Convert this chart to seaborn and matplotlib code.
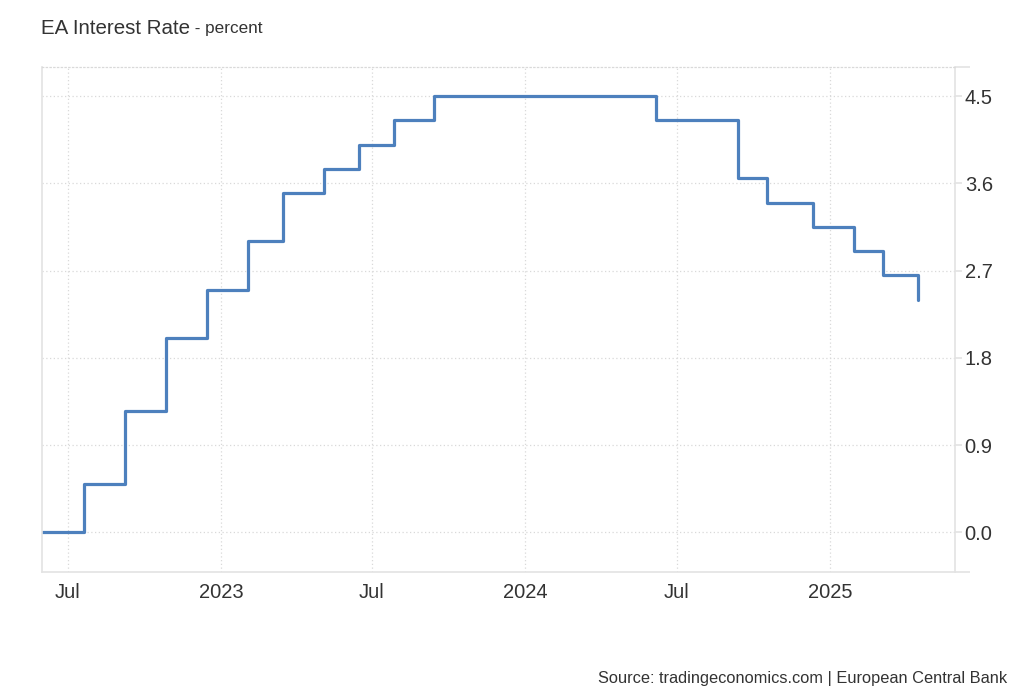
import matplotlib
matplotlib.use("Agg")
import matplotlib.pyplot as plt
import matplotlib.ticker as mticker
import numpy as np
import pandas as pd
import seaborn as sb

# ECB main refinancing rate, decision dates
dates = ["2022-05-31", "2022-07-21", "2022-09-08", "2022-10-27", "2022-12-15",
         "2023-02-02", "2023-03-16", "2023-05-04", "2023-06-15", "2023-07-27",
         "2023-09-14", "2024-06-06", "2024-09-12", "2024-10-17", "2024-12-12",
         "2025-01-30", "2025-03-06", "2025-04-17"]
rates = [0.0, 0.5, 1.25, 2.0, 2.5,
         3.0, 3.5, 3.75, 4.0, 4.25,
         4.5, 4.25, 3.65, 3.4, 3.15,
         2.9, 2.65, 2.4]

x_ticks = ["2022-07-01", "2023-01-01", "2023-07-01", "2024-01-01", "2024-07-01", "2025-01-01"]
x_labels = ["Jul", "2023", "Jul", "2024", "Jul", "2025"]
y_ticks = [0.0, 0.9, 1.8, 2.7, 3.6, 4.5]

title = "EA Interest Rate"
subtitle = " - percent"
source = "Source: tradingeconomics.com | European Central Bank"

df = pd.DataFrame({"date": pd.to_datetime(dates), "rate": rates})

sb.set_style("white")
plt.rcParams["font.family"] = ["Liberation Sans", "DejaVu Sans"]

fig = plt.figure(figsize=(10.24, 7), dpi=100)
ax = fig.add_axes([42 / 1024, 1 - 572 / 700, (955 - 42) / 1024, (572 - 67) / 700])

sb.lineplot(data=df, x="date", y="rate", ax=ax, drawstyle="steps-post",
            color="#4d80bd", linewidth=2.3)

ax.set_xlim(pd.Timestamp("2022-05-31"), pd.Timestamp("2025-05-31"))
ax.set_ylim(-0.41, 4.80)

ax.set_xticks(pd.to_datetime(x_ticks))
ax.set_xticklabels(x_labels)
ax.set_yticks(y_ticks)
ax.yaxis.set_major_formatter(mticker.FormatStrFormatter("%.1f"))
ax.yaxis.tick_right()
ax.set_yticks([-0.41, 4.80], minor=True)

ax.set_xlabel("")
ax.set_ylabel("")

grid_col = "#d9d9d9"
ax.grid(True, which="major", color=grid_col, linestyle=(0, (1, 2)), linewidth=0.9)

for side in ["left", "right", "bottom"]:
    ax.spines[side].set_visible(True)
    ax.spines[side].set_color("#e3e3e3")
    ax.spines[side].set_linewidth(1.2)
ax.spines["top"].set_color(grid_col)
ax.spines["top"].set_linestyle((0, (1, 2)))
ax.spines["top"].set_linewidth(0.9)

ax.tick_params(axis="x", length=0, pad=8, labelsize=14.5, labelcolor="#333333")
ax.tick_params(axis="y", which="major", length=5, width=1.2, color="#e3e3e3",
               pad=2, labelsize=14.5, labelcolor="#333333")
ax.tick_params(axis="y", which="minor", length=11, width=1.2, color="#e3e3e3")

t1 = fig.text(41 / 1024, 1 - 28 / 700, title, fontsize=14.8, color="#333333",
              va="center", ha="left")
fig.canvas.draw()
bb = t1.get_window_extent(renderer=fig.canvas.get_renderer())
fig.text(bb.x1 / 1024, 1 - 29 / 700, subtitle, fontsize=12.3, color="#333333",
         va="center", ha="left")

fig.text(1007 / 1024, 1 - 679 / 700, source, fontsize=11.8, color="#333333",
         va="center", ha="right")

fig.savefig("out.png", dpi=100)
